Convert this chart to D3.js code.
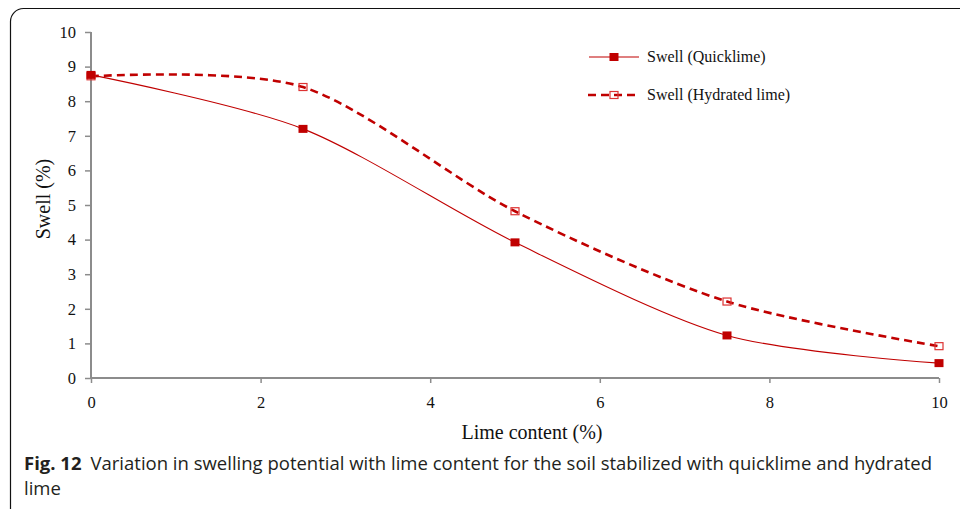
<!DOCTYPE html>
<html><head><meta charset="utf-8">
<script src="https://cdn.jsdelivr.net/npm/d3@7"></script>
<style>body{margin:0;background:#fff}svg{display:block}</style>
</head><body>
<svg id="c" width="960" height="509"></svg>
<script>
const limeContent = [0, 2.5, 5, 7.5, 10];
const swellQuicklime = [8.76, 7.2, 3.92, 1.23, 0.43];
const swellHydrated = [8.72, 8.41, 4.82, 2.21, 0.92];
const xTicks = [0, 2, 4, 6, 8, 10];
const yTicks = [0,1,2,3,4,5,6,7,8,9,10];
const seriesNames = ["Swell (Quicklime)", "Swell (Hydrated lime)"];
const color = "#c00000";

const svg = d3.select("#c");
svg.append("rect").attr("x",10.5).attr("y",8.5).attr("width",980).attr("height",520)
  .attr("rx",13).attr("fill","none").attr("stroke","#111").attr("stroke-width",1.2);

const x = d3.scaleLinear().domain([0,10]).range([91,939]);
const y = d3.scaleLinear().domain([0,10]).range([378,32]);
const serif = "'Liberation Serif','Times New Roman',serif";

const yAx = svg.append("g").attr("transform","translate(91,0)")
  .call(d3.axisLeft(y).tickValues(yTicks).tickSize(6).tickPadding(9).tickFormat(d3.format("d")));
const xAx = svg.append("g").attr("transform","translate(0,378)")
  .call(d3.axisBottom(x).tickValues(xTicks).tickSize(5).tickPadding(13).tickFormat(d3.format("d")));
[yAx,xAx].forEach(g=>{
  g.attr("font-size",16.5).attr("font-family",serif);
  g.select(".domain").attr("stroke","#8c8c8c").attr("stroke-width",2);
  g.selectAll(".tick line").attr("stroke","#8c8c8c").attr("stroke-width",1.5);
  g.selectAll(".tick text").attr("font-family",serif).attr("font-size",16.5).attr("fill","#111");
});
yAx.select(".domain").attr("d","M0,32V378");
xAx.select(".domain").attr("d","M91,0H939");

svg.append("text").attr("transform","translate(50,199) rotate(-90)").attr("text-anchor","middle")
  .attr("font-family",serif).attr("font-size",20).attr("fill","#111").text("Swell (%)");
svg.append("text").attr("x",532).attr("y",439).attr("text-anchor","middle")
  .attr("font-family",serif).attr("font-size",20).attr("fill","#111").text("Lime content (%)");

const line = d3.line().x(d=>x(d[0])).y(d=>y(d[1])).curve(d3.curveCardinal.tension(0.15));
const q = limeContent.map((v,i)=>[v,swellQuicklime[i]]);
const h = limeContent.map((v,i)=>[v,swellHydrated[i]]);

svg.append("path").attr("d",line(h)).attr("fill","none").attr("stroke",color)
  .attr("stroke-width",2.6).attr("stroke-dasharray","8,5");
svg.append("path").attr("d",line(q)).attr("fill","none").attr("stroke",color).attr("stroke-width",1.1);

svg.selectAll(".mh").data(h).enter().append("rect")
  .attr("x",d=>x(d[0])-4).attr("y",d=>y(d[1])-3.5).attr("width",8).attr("height",7)
  .attr("fill","none").attr("stroke","#d33").attr("stroke-width",1.2);
svg.selectAll(".mq").data(q).enter().append("rect")
  .attr("x",d=>x(d[0])-4.5).attr("y",d=>y(d[1])-4).attr("width",9).attr("height",8)
  .attr("fill",color);

const lg = svg.append("g");
lg.append("line").attr("x1",589).attr("x2",639).attr("y1",57).attr("y2",57).attr("stroke",color).attr("stroke-width",1.1);
lg.append("rect").attr("x",609.5).attr("y",53).attr("width",9).attr("height",8).attr("fill",color);
lg.append("line").attr("x1",588).attr("x2",640).attr("y1",95).attr("y2",95).attr("stroke",color)
  .attr("stroke-width",2.6).attr("stroke-dasharray","8,5");
lg.append("rect").attr("x",610).attr("y",91.5).attr("width",8).attr("height",7).attr("fill","none").attr("stroke","#d33").attr("stroke-width",1.2);
lg.selectAll(".lt").data(seriesNames).enter().append("text")
  .attr("x",647).attr("y",(d,i)=>62+i*38).attr("font-family",serif).attr("font-size",16).attr("fill","#111").text(d=>d);

const sans = "'Open Sans','Noto Sans',sans-serif";
const cap = svg.append("text").attr("x",24).attr("y",470).attr("font-family",sans).attr("font-size",18.5).attr("fill","#231f20");
cap.append("tspan").attr("font-weight","bold").text("Fig. 12");
cap.append("tspan").attr("dx",9).text("Variation in swelling potential with lime content for the soil stabilized with quicklime and hydrated");
svg.append("text").attr("x",24).attr("y",495).attr("font-family",sans).attr("font-size",18.5).attr("fill","#231f20").text("lime");
</script>
</body></html>
